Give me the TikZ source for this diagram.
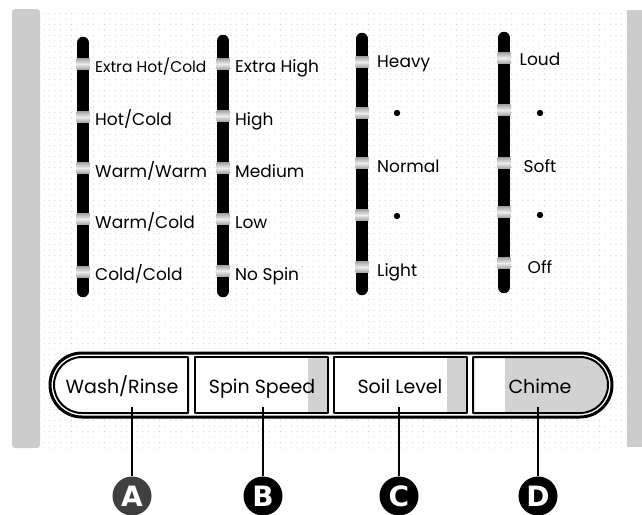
\documentclass[tikz,border=0pt]{standalone}
\usepackage{fontspec}
\setmainfont{Poppins}
\newfontfamily\badgefont{DejaVu Sans}
\usetikzlibrary{patterns.meta}
\begin{document}
\begin{tikzpicture}[x=1pt,y=-1pt,line cap=round,line join=round,font=\fontsize{17}{19}\selectfont,
	lbl/.style={anchor=base west,inner sep=0pt},
	ctr/.style={anchor=base,inner sep=0pt},
	bar/.style={line width=12.5pt},
	band/.style={top color=gray!70,bottom color=gray!70,middle color=gray!15},
	btntext/.style={anchor=base,inner sep=0pt,text height=15pt,text depth=14pt,font=\fontsize{19}{21}\selectfont},
	badge/.style={circle,fill=black,text=white,minimum size=39pt,inner sep=0pt,font=\badgefont\bfseries\fontsize{28}{28}\selectfont},
	leader/.style={line width=2.6pt,line cap=butt}]
	\useasboundingbox (0,0) rectangle (642,514);
	% panel background and side strips
	\fill[pattern={Dots[distance=5.5pt,radius=0.45pt]},pattern color=gray!65] (40,9) rectangle (627,448);
	\fill[gray!40,rounded corners=3pt] (12,9) rectangle (40,448);
	\fill[gray!40] (627,10) rectangle (642,447);
	% indicator bars
	\draw[bar] (83,43)--(83,291);
	\draw[bar] (223,41)--(223,291);
	\draw[bar] (362,39)--(362,289);
	\draw[bar] (504,38)--(504,287);
	\foreach \x/\y in {83/64,83/117,83/168,83/219,83/272,223/64,223/116,223/168,223/219,223/271,
		362/62,362/113,362/163,362/215,362/267,504/58,504/110,504/163,504/212,504/263}
		\shade[band] (\x-6.5,\y-5.5) rectangle (\x+6.5,\y+5.5);
	% wash/rinse
	\node[lbl,font=\fontsize{15.5}{17}\selectfont] (xhot) at (95,72) {Extra Hot/Cold};
	\node[lbl] (hot) at (95,125) {Hot/Cold};
	\node[lbl] (warmwarm) at (95,177) {Warm/Warm};
	\node[lbl] (warmcold) at (95,228) {Warm/Cold};
	\node[lbl] (coldcold) at (95,280) {Cold/Cold};
	% spin speed
	\node[lbl] (xhigh) at (235,72) {Extra High};
	\node[lbl] (high) at (235,125) {High};
	\node[lbl] (medium) at (235,177) {Medium};
	\node[lbl] (low) at (235,228) {Low};
	\node[lbl] (nospin) at (235,280) {No Spin};
	% soil level
	\node[lbl] (heavy) at (377,67) {Heavy};
	\node[lbl] (normal) at (377,172) {Normal};
	\node[lbl] (light) at (377,276) {Light};
	\fill (397,113) circle (3.2) (397,216) circle (3.2);
	% chime
	\node[ctr] (loud) at (540,65) {Loud};
	\node[ctr] (soft) at (540,172) {Soft};
	\node[ctr] (off) at (540,273) {Off};
	\fill (540,113) circle (3.2) (540,215) circle (3.2);
	% button strip
	\draw[line width=3pt,fill=white] (82,353)--(580,353) arc[start angle=-90,end angle=90,radius=32]
		--(82,417) arc[start angle=90,end angle=270,radius=32]--cycle;
	\fill[gray!35] (308,358) rectangle (327,412) (447,358) rectangle (466,412)
		(505,358)--(580,358) arc[start angle=-90,end angle=90,radius=27]--(505,412)--cycle;
	\draw[line width=2pt] (188,357)--(82,357) arc[start angle=-90,end angle=-270,radius=28]--(188,413)--cycle;
	\draw[line width=2pt] (195,357) rectangle (328,413) (334,357) rectangle (467,413);
	\draw[line width=2pt] (473,357)--(580,357) arc[start angle=-90,end angle=90,radius=28]--(473,413)--cycle;
	\node[btntext] (wash) at (122,393) {Wash/Rinse};
	\node[btntext] (spin) at (262,393) {Spin Speed};
	\node[btntext] (soil) at (400,393) {Soil Level};
	\node[btntext] (chime) at (540,393) {Chime};
	% callouts
	\node[badge,fill=black!75] (A) at (132,496) {A};
	\node[badge] (B) at (263,496) {B};
	\node[badge] (C) at (399,496) {C};
	\node[badge] (D) at (538,496) {D};
	\draw[leader] (A.north)--(A.north |- wash.south);
	\draw[leader] (B.north)--(B.north |- spin.south);
	\draw[leader] (C.north)--(C.north |- soil.south);
	\draw[leader] (D.north)--(D.north |- chime.south);
\end{tikzpicture}
\end{document}
